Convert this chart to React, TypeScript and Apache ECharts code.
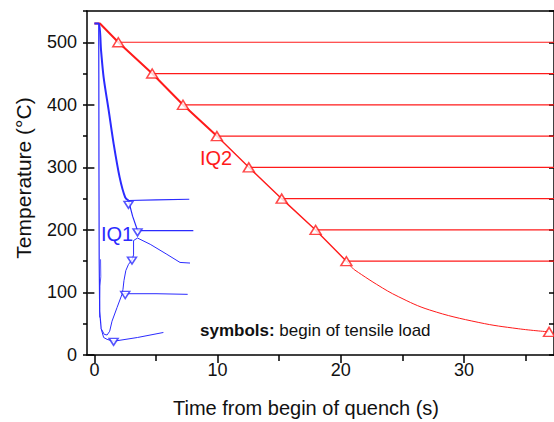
import React, { useEffect, useRef } from "react";
import * as echarts from "echarts";

// ---- axis tick values ----
const xMajorTicks = [0, 10, 20, 30];
const xMinorTicks = [5, 15, 25, 35];
const yMajorTicks = [0, 100, 200, 300, 400, 500];

// ---- IQ2 (red) ----
const iq2Start = [[0, 530], [0.45, 530], [1.94, 500], [4.69, 450], [7.19, 400], [9.94, 350]];
const iq2Mid = [[9.94, 350], [12.53, 300], [15.2, 250], [17.95, 200], [20.45, 150]];
const iq2Kink = [[20.45, 150], [20.9, 140], [21.05, 137]];
const iq2Tail = [[21.05, 137], [22.9, 113], [24.7, 93], [27.2, 72], [31.2, 52], [34.4, 42], [36.9, 37]];
const iq2LoadTimes = [1.94, 4.69, 7.19, 9.94, 12.53, 15.2, 17.95, 20.45, 36.9];
const iq2LoadTemps = [500, 450, 400, 350, 300, 250, 200, 150, 37];
const iq2HoldEnd = 40;

// ---- IQ1 (blue) ----
const iq1Slow = [[0, 530], [0.35, 530], [0.54, 487], [0.75, 444], [1.16, 391], [1.56, 338], [2.05, 284], [2.5, 252], [2.77, 247]];
const iq1Hold250 = [[2.77, 247], [5, 248], [7.7, 249]];
const iq1Hold200 = [[2.77, 247], [3.1, 222], [3.5, 199], [5.5, 199], [8.03, 199]];
const iq1Fast = [[0.35, 530], [0.36, 450], [0.37, 300], [0.39, 150], [0.43, 70], [0.55, 42]];
const iq1Hold25 = [[0.55, 42], [0.75, 28], [1.03, 25], [1.56, 22], [3.5, 28], [5.6, 36]];
const iq1Reheat100 = [[0.55, 42], [0.8, 33], [1.03, 32], [1.24, 38], [1.43, 54], [1.84, 76], [2.24, 97], [2.5, 98], [5, 98], [7.57, 97]];
const iq1Reheat150 = [[2.24, 97], [2.32, 105], [2.4, 119], [2.55, 135], [2.77, 145], [3.05, 152], [3.18, 160], [3.18, 183], [3.5, 187], [4.53, 177], [5.88, 161], [6.95, 148], [7.76, 147]];
const iq1Spike = [[0.5, 153], [0.52, 125], [0.45, 110], [0.43, 90], [0.42, 60]];
const iq1LoadTimes = [2.77, 3.5, 3.05, 2.5, 1.56];
const iq1LoadTemps = [240, 196, 151, 96, 21];

const FONT = "'Liberation Sans', Arial, sans-serif";
const RED = "#ff1a1a";
const BLUE = "#2b2bff";

function lineSeries(data: number[][], color: string, width: number, smooth: any = false) {
  return {
    type: "line",
    data,
    showSymbol: false,
    symbol: "none",
    smooth,
    lineStyle: { color, width },
    silent: true,
    z: 3,
  };
}

export default function App() {
  const ref = useRef<HTMLDivElement>(null);

  useEffect(() => {
    if (!ref.current) return;
    const chart = echarts.init(ref.current, undefined, { renderer: "svg" });

    const redHolds = iq2LoadTemps.slice(0, 8).map((T, i) =>
      lineSeries([[iq2LoadTimes[i], T], [iq2HoldEnd, T]], RED, 1.2)
    );

    const axisLineStyle = { color: "#000", width: 1.5 };
    const centered = { align: "center", verticalAlign: "middle", textAlign: "center", textVerticalAlign: "middle" };

    const option: any = {
      animation: false,
      grid: { left: 87, top: 11, right: -2, bottom: 67, containLabel: false },
      xAxis: [
        {
          type: "value",
          position: "bottom",
          min: -0.6,
          max: 37.3,
          axisLine: { show: true, onZero: false, lineStyle: axisLineStyle },
          axisTick: { show: true, length: 8, customValues: xMajorTicks, lineStyle: axisLineStyle },
          axisLabel: { customValues: xMajorTicks, fontSize: 18, fontFamily: FONT, color: "#111", margin: 6 },
          splitLine: { show: false },
        },
        {
          type: "value",
          position: "bottom",
          min: -0.6,
          max: 37.3,
          axisLine: { show: false },
          axisTick: { show: true, length: 6, customValues: xMinorTicks, lineStyle: axisLineStyle },
          axisLabel: { show: false },
          splitLine: { show: false },
        },
        {
          type: "value",
          position: "top",
          min: -0.6,
          max: 37.3,
          axisLine: { show: true, onZero: false, lineStyle: axisLineStyle },
          axisTick: { show: false },
          axisLabel: { show: false },
          splitLine: { show: false },
        },
      ],
      yAxis: [
        {
          type: "value",
          position: "left",
          min: 0,
          max: 550,
          interval: 50,
          axisLine: { show: true, onZero: false, lineStyle: axisLineStyle },
          axisTick: { show: true, length: 4, lineStyle: axisLineStyle },
          axisLabel: {
            fontSize: 18,
            fontFamily: FONT,
            color: "#111",
            margin: 10,
            formatter: (v: number) => (v % 100 === 0 ? String(v) : ""),
          },
          splitLine: { show: false },
        },
        {
          type: "value",
          position: "left",
          min: 0,
          max: 550,
          axisLine: { show: false },
          axisTick: { show: true, length: 7, customValues: yMajorTicks, lineStyle: axisLineStyle },
          axisLabel: { show: false },
          splitLine: { show: false },
        },
        {
          type: "value",
          position: "right",
          min: 0,
          max: 550,
          interval: 50,
          axisLine: { show: true, onZero: false, lineStyle: axisLineStyle },
          axisTick: { show: true, inside: true, length: 5, lineStyle: axisLineStyle },
          axisLabel: { show: false },
          splitLine: { show: false },
        },
      ],
      series: [
        ...redHolds,
        lineSeries(iq2Start, RED, 2),
        lineSeries(iq2Mid, RED, 1.4),
        lineSeries(iq2Kink, RED, 1),
        lineSeries(iq2Tail, RED, 1, 0.4),
        lineSeries(iq1Slow, BLUE, 2, 0.3),
        lineSeries(iq1Hold250, BLUE, 1.2),
        lineSeries(iq1Hold200, BLUE, 1.2),
        lineSeries(iq1Fast, BLUE, 1.2),
        lineSeries(iq1Hold25, BLUE, 1),
        lineSeries(iq1Reheat100, BLUE, 1),
        lineSeries(iq1Reheat150, BLUE, 1),
        lineSeries(iq1Spike, BLUE, 0.8),
        {
          type: "scatter",
          data: iq2LoadTimes.map((t, i) => [t, iq2LoadTemps[i]]),
          symbol: "triangle",
          symbolSize: [11, 9],
          itemStyle: { color: "#fff", borderColor: RED, borderWidth: 1.5 },
          z: 5,
          silent: true,
        },
        {
          type: "scatter",
          data: iq1LoadTimes.map((t, i) => [t, iq1LoadTemps[i]]),
          symbol: "triangle",
          symbolRotate: 180,
          symbolSize: [9, 7],
          itemStyle: { color: "#fff", borderColor: BLUE, borderWidth: 1.5 },
          z: 5,
          silent: true,
        },
      ],
      graphic: [
        {
          type: "text",
          x: 306,
          y: 408,
          style: { text: "Time from begin of quench (s)", fontSize: 20, fontFamily: FONT, fill: "#111", ...centered },
        },
        {
          type: "text",
          x: 23,
          y: 178,
          rotation: Math.PI / 2,
          style: { text: "Temperature (°C)", fontSize: 21, fontFamily: FONT, fill: "#111", ...centered },
        },
        {
          type: "text",
          x: 117,
          y: 234,
          z: 10,
          style: { text: "IQ1", fontSize: 20, fontFamily: FONT, fill: BLUE, ...centered },
        },
        {
          type: "text",
          x: 216,
          y: 158,
          z: 10,
          style: { text: "IQ2", fontSize: 20, fontFamily: FONT, fill: RED, ...centered },
        },
        {
          type: "text",
          x: 200,
          y: 330,
          z: 10,
          style: {
            text: "{b|symbols:} begin of tensile load",
            fontSize: 17,
            fontFamily: FONT,
            fill: "#111",
            align: "left",
            verticalAlign: "middle",
            textAlign: "left",
            textVerticalAlign: "middle",
            rich: {
              b: { fontSize: 17, fontFamily: FONT, fontWeight: "bold", fill: "#111" },
            },
          },
        },
      ],
    };

    chart.setOption(option);
    return () => chart.dispose();
  }, []);

  return (
    <div
      ref={ref}
      style={{ position: "fixed", left: 0, top: 0, width: 554, height: 422, background: "#fff" }}
    />
  );
}
